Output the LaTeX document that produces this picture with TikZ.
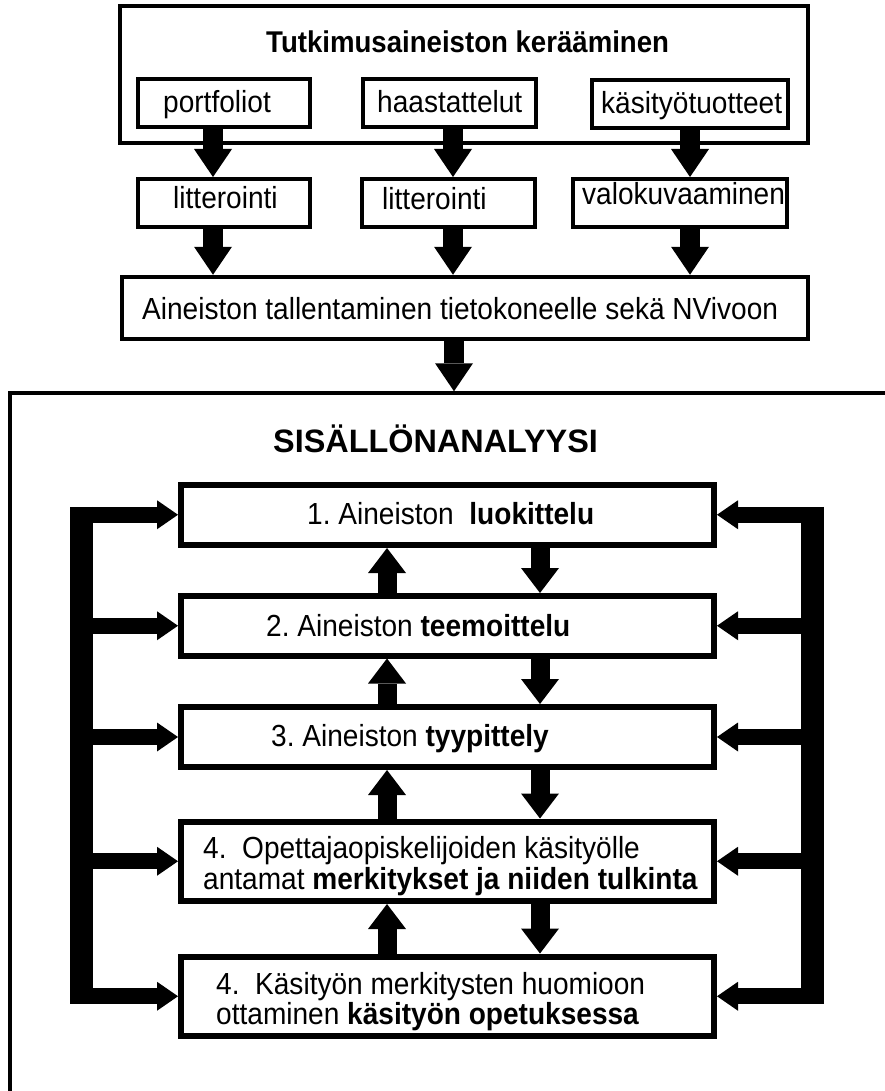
\documentclass[tikz,border=0pt]{standalone}
\usepackage{fontspec}
\setmainfont{Liberation Sans}[FakeStretch=0.92]
\newfontfamily\headsans{Liberation Sans}
\usetikzlibrary{arrows.meta,calc}
\frenchspacing
\begin{document}
\begin{tikzpicture}[x=1pt,y=-1pt,
  sbox/.style={draw,line width=4pt,inner sep=0pt},
  obox/.style={draw,line width=4.5pt,inner sep=0pt},
  ibox/.style={draw,line width=6pt,inner sep=0pt},
  txt/.style={inner sep=0pt,anchor=base west,font=\fontsize{30.5}{33}\selectfont},
  ttl/.style={inner sep=0pt,anchor=base west,font=\bfseries\fontsize{30}{33}\selectfont},
  bigttl/.style={inner sep=0pt,anchor=base west,font=\headsans\bfseries\fontsize{32.4}{36}\selectfont},
  varrow/.style={line width=20pt,-{Triangle[width=38pt,length=28pt,line width=0pt]}},
  iarrow/.style={line width=19pt,-{Triangle[width=38pt,length=25pt,line width=0pt]}},
  arm/.style={line width=16pt,-{Triangle[width=29pt,length=21pt,line width=0pt]}},
  bar/.style={line width=23pt},
  frame/.style={line width=3.5pt}]
\useasboundingbox (0,0) rectangle (884,1091);

% --- data collection ---
\node[obox,minimum width=688pt,minimum height=137pt] (collect) at (464,74.5) {};
\node[ttl] (collecttitle) at (266,53) {Tutkimusaineiston kerääminen};

\node[sbox,minimum width=172pt,minimum height=48pt] (p1) at (224,103) {};
\node[sbox,minimum width=173pt,minimum height=48pt] (p2) at (449.5,103) {};
\node[sbox,minimum width=196pt,minimum height=48pt] (p3) at (690,104) {};
\node[txt] (p1t) at (163,113) {portfoliot};
\node[txt] (p2t) at (377,113) {haastattelut};
\node[txt] (p3t) at (601,114) {käsityötuotteet};

\node[sbox,minimum width=172pt,minimum height=48pt] (l1) at (224,203) {};
\node[sbox,minimum width=173pt,minimum height=48pt] (l2) at (448.5,203) {};
\node[sbox,minimum width=214pt,minimum height=48pt] (l3) at (680,203) {};
\node[txt] (l1t) at (173,209) {litterointi};
\node[txt] (l2t) at (382,210) {litterointi};
\node[txt] (l3t) at (582,205) {valokuvaaminen};

\node[obox,minimum width=686pt,minimum height=62pt] (store) at (465,308) {};
\node[txt] (storet) at (142,319) {Aineiston tallentaminen tietokoneelle sekä NVivoon};

% arrow columns
\coordinate (c1) at (213,0);
\coordinate (c2) at (453,0);
\coordinate (c3) at (690,0);
\coordinate (c4) at (454,0);

\draw[varrow] (c1 |- p1.south) -- (c1 |- l1.north);
\draw[varrow] (c2 |- p2.south) -- (c2 |- l2.north);
\draw[varrow] (c3 |- p3.south) -- (c3 |- l3.north);
\draw[varrow] (c1 |- l1.south) -- (c1 |- store.north);
\draw[varrow] (c2 |- l2.south) -- (c2 |- store.north);
\draw[varrow] (c3 |- l3.south) -- (c3 |- store.north);

% --- content analysis frame ---
\coordinate (fr) at (890,393);
\coordinate (fc) at (10,393);
\coordinate (fb) at (10,1095);
\coordinate (fin) at (454,391.25);
\draw[frame] (fr) -- (fc) -- (fb);
\draw[varrow] (c4 |- store.south) -- (fin);

\node[bigttl] (analysis) at (273,452) {SISÄLLÖNANALYYSI};

\node[ibox,minimum width=533pt,minimum height=60.5pt] (b1) at (447.5,514.75) {};
\node[ibox,minimum width=533pt,minimum height=59.5pt] (b2) at (447.5,625.75) {};
\node[ibox,minimum width=533pt,minimum height=60pt] (b3) at (447.5,737) {};
\node[ibox,minimum width=533pt,minimum height=79.5pt] (b4) at (447.5,861.25) {};
\node[ibox,minimum width=533pt,minimum height=79.5pt] (b5) at (447.5,996.25) {};

\node[txt] (b1t) at (307,524) {1. Aineiston\ \ \textbf{luokittelu}};
\node[txt] (b2t) at (266,636) {2. Aineiston \textbf{teemoittelu}};
\node[txt] (b3t) at (271,746) {3. Aineiston \textbf{tyypittely}};
\node[txt] (b4ta) at (203,858) {4.\ \ Opettajaopiskelijoiden käsityölle};
\node[txt] (b4tb) at (203,889) {antamat \textbf{merkitykset ja niiden tulkinta}};
\node[txt] (b5ta) at (216,994) {4.\ \ Käsityön merkitysten huomioon};
\node[txt] (b5tb) at (216,1024) {ottaminen \textbf{käsityön opetuksessa}};

% up and down arrows between the steps
\coordinate (up) at (387,0);
\coordinate (dn) at (540,0);
\foreach \a/\b in {b1/b2,b2/b3,b3/b4,b4/b5}{
  \draw[iarrow] (dn |- \a.south) -- (dn |- \b.north);
  \draw[iarrow] (up |- \b.north) -- (up |- \a.south);
}

% feedback brackets on both sides
\coordinate (lx) at (81.5,0);
\coordinate (rx) at (812,0);
\draw[bar] ($(lx |- b1.west)+(0,-8)$) -- ($(lx |- b5.west)+(0,8)$);
\draw[bar] ($(rx |- b1.east)+(0,-8)$) -- ($(rx |- b5.east)+(0,8)$);
\foreach \n in {b1,b2,b3,b4,b5}{
  \draw[arm] (lx |- \n.west) -- (\n.west);
  \draw[arm] (rx |- \n.east) -- (\n.east);
}
\end{tikzpicture}
\end{document}
